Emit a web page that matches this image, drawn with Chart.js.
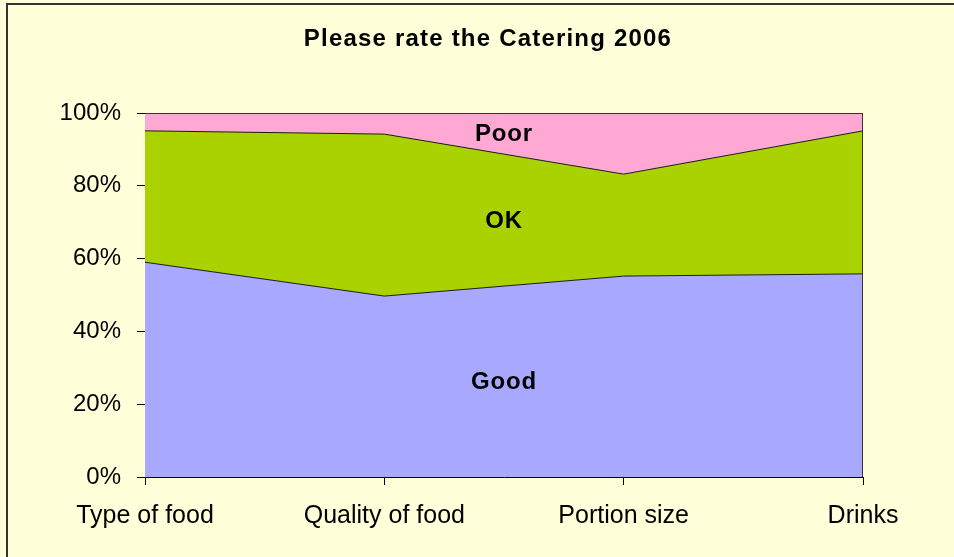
<!DOCTYPE html>
<html>
<head>
<meta charset="utf-8">
<script src="https://cdn.jsdelivr.net/npm/chart.js@4.4.1/dist/chart.umd.min.js"></script>
<style>
  html, body { margin: 0; padding: 0; background: #FFFFDA; }
  #wrap { width: 954px; height: 557px; }
</style>
</head>
<body>
<div id="wrap"><canvas id="chart" width="954" height="557"></canvas></div>
<script>
let title = "Please rate the Catering 2006"

let categories = ["Type of food", "Quality of food", "Portion size", "Drinks"]

// percent of answers per category
let good = [59.0, 49.7, 55.2, 55.8]
let ok = [36.1, 44.5, 28.0, 39.3]
let poor = [4.9, 5.8, 16.8, 4.9]

let yTicks = [0, 20, 40, 60, 80, 100]

let seriesNames = ["Good", "OK", "Poor"]

// background, outer frame, title and the area labels
let decor = {
    id: 'decor',
    beforeDraw(chart) {
        let ctx = chart.ctx
        ctx.save()
        ctx.fillStyle = '#FFFFDA'
        ctx.fillRect(0, 0, chart.width, chart.height)
        ctx.strokeStyle = '#333333'
        ctx.lineWidth = 2
        ctx.strokeRect(7, 4, chart.width, chart.height)
        ctx.restore()
    },
    afterDraw(chart) {
        let ctx = chart.ctx
        let area = chart.chartArea
        let x = chart.scales.x
        let y = chart.scales.y
        ctx.save()

        // top and right edge of the plot
        ctx.strokeStyle = '#333333'
        ctx.lineWidth = 1
        ctx.beginPath()
        ctx.moveTo(area.left, area.top + 0.5)
        ctx.lineTo(area.right - 0.5, area.top + 0.5)
        ctx.lineTo(area.right - 0.5, area.bottom)
        ctx.stroke()

        ctx.fillStyle = '#000000'
        ctx.letterSpacing = '1.2px'
        ctx.font = 'bold 24px "Liberation Sans", Arial, sans-serif'
        ctx.textAlign = 'center'
        ctx.textBaseline = 'alphabetic'
        ctx.fillText(title, 488, 46)

        // series names in the middle of each band
        ctx.letterSpacing = '0.8px'
        ctx.font = 'bold 24px "Liberation Sans", Arial, sans-serif'
        ctx.textBaseline = 'middle'
        let px = x.getPixelForValue(1.5)
        let bottom = 0
        let lists = [good, ok, poor]
        lists.forEach((list, i) => {
            let h = (list[1] + list[2]) / 2
            let mid = bottom + h / 2
            bottom += h
            ctx.fillText(seriesNames[i], px, y.getPixelForValue(mid) + 1)
        })
        ctx.restore()
    }
}

let makeSet = function(name, data, color, fill) {
    return {
        label: name,
        data: data,
        backgroundColor: color,
        borderColor: '#1a1a1a',
        borderWidth: 1,
        fill: fill,
        tension: 0,
        pointRadius: 0,
        pointHoverRadius: 0
    }
}

chart = new Chart(
    document.getElementById("chart"),
    {
        type: 'line',
        data: {
            labels: categories,
            datasets: [
                makeSet(seriesNames[0], good, '#A8A8FF', 'origin'),
                makeSet(seriesNames[1], ok, '#AAD200', '-1'),
                makeSet(seriesNames[2], poor, '#FFA8D4', '-1')
            ]
        },
        options: {
            responsive: false,
            animation: false,
            events: [],
            layout: {
                padding: { top: 113, right: 91, bottom: 0, left: 0 }
            },
            scales: {
                x: {
                    offset: false,
                    afterFit: scale => { scale.height = 80 },
                    grid: {
                        drawOnChartArea: false,
                        color: '#000000',
                        tickLength: 8
                    },
                    border: { color: '#000000', width: 1 },
                    ticks: {
                        padding: 16,
                        color: '#000000',
                        maxRotation: 0,
                        autoSkip: false,
                        font: { family: '"Liberation Sans", Arial, sans-serif', size: 25 }
                    }
                },
                y: {
                    stacked: true,
                    min: 0,
                    max: 100,
                    afterFit: scale => { scale.width = 145 },
                    afterBuildTicks: scale => {
                        scale.ticks = yTicks.map(v => ({ value: v }))
                    },
                    grid: {
                        drawOnChartArea: false,
                        color: '#000000',
                        tickLength: 8
                    },
                    border: { color: '#000000', width: 1 },
                    ticks: {
                        padding: 16,
                        color: '#000000',
                        font: { family: '"Liberation Sans", Arial, sans-serif', size: 24 },
                        callback: v => v + '%'
                    }
                }
            },
            plugins: {
                legend: { display: false },
                title: { display: false },
                tooltip: { enabled: false }
            }
        },
        plugins: [decor]
    }
)
</script>
</body>
</html>
